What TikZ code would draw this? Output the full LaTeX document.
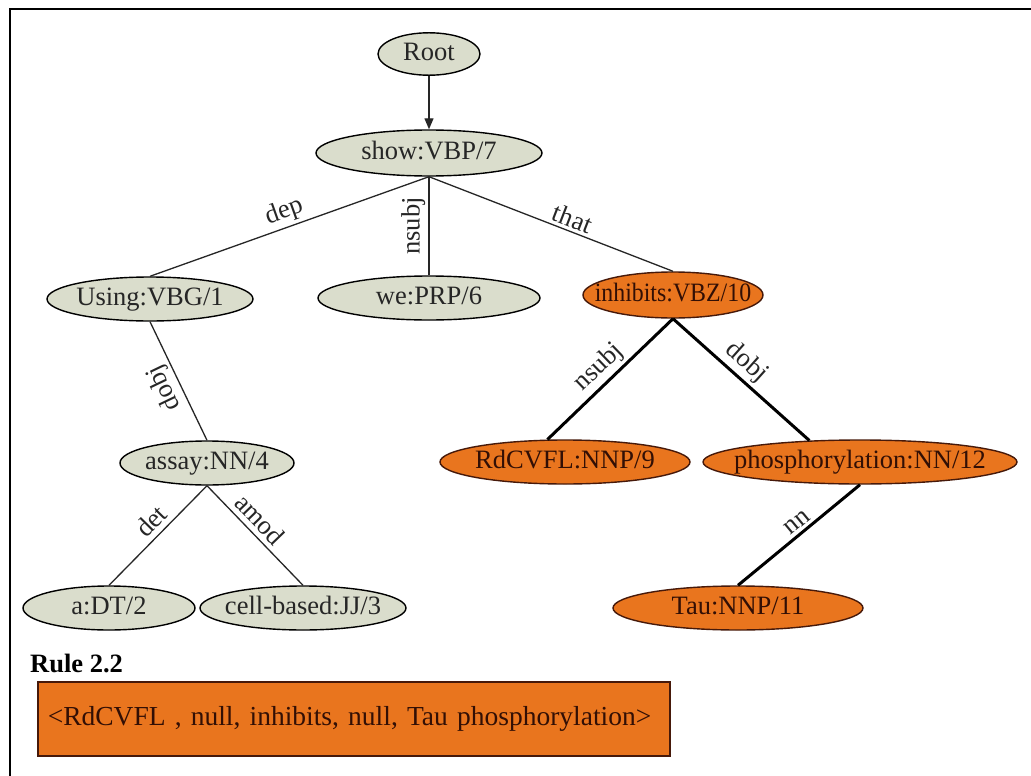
\documentclass[tikz,border=0pt]{standalone}
\usepackage{fontspec}
\setmainfont{Liberation Serif}
\usetikzlibrary{shapes.geometric,arrows.meta}

\definecolor{leaf}{RGB}{218,221,204}
\definecolor{hot}{RGB}{233,117,30}
\definecolor{hotline}{RGB}{70,25,10}
\definecolor{hottext}{RGB}{50,15,5}

% word text that does not widen its ellipse
\newcommand{\nlab}[1]{\makebox[0pt][c]{\strut#1}}

\tikzset{
  word/.style={ellipse, line width=1.4pt, inner sep=0pt, minimum height=44pt,
    font=\fontsize{26.5}{30}\selectfont},
  plain/.style={word, draw=black, fill=leaf, text=black!85},
  focus/.style={word, draw=hotline, fill=hot, text=hottext},
  thinedge/.style={line width=1.3pt, draw=black!85},
  heavy/.style={line width=3pt, draw=black},
  rel/.style={font=\fontsize{26.5}{30}\selectfont, inner sep=3pt, sloped, above, text=black!85},
}

\begin{document}
\begin{tikzpicture}[x=1pt, y=-1pt]
\useasboundingbox[fill=white] (0,0) rectangle (1031,776);

% frame
\draw[line width=2pt] (10,776) -- (10,9) -- (1031,9);

% words
\node[plain, minimum width=102pt, minimum height=42pt] (root) at (429,54) {\nlab{Root}};
\node[plain, minimum width=226pt, minimum height=46pt] (show) at (429,153) {\nlab{show:VBP/7}};
\node[plain, minimum width=206pt] (using) at (150,299) {\nlab{Using:VBG/1}};
\node[plain, minimum width=222pt] (we) at (429,298) {\nlab{we:PRP/6}};
\node[focus, minimum width=180pt, minimum height=46pt] (inh) at (673,295)
  {\nlab{\scalebox{0.9}[1]{inhibits:VBZ/10}}};
\node[plain, minimum width=174pt] (assay) at (207,463) {\nlab{assay:NN/4}};
\node[plain, minimum width=172pt] (a) at (109,608) {\nlab{a:DT/2}};
\node[plain, minimum width=206pt] (cell) at (303,608) {\nlab{cell-based:JJ/3}};
\node[focus, minimum width=250pt] (rd) at (565,462) {\nlab{RdCVFL:NNP/9}};
\node[focus, minimum width=314pt] (ph) at (860,462) {\nlab{phosphorylation:NN/12}};
\node[focus, minimum width=250pt] (tau) at (738,608) {\nlab{Tau:NNP/11}};

% dependencies
\draw[thinedge, -{Triangle[length=11pt,width=9pt]}] (root) -- (show);
\draw[thinedge] (show.south) -- node[rel] {dep} (using.north);
\draw[thinedge] (we.north) -- node[rel] {nsubj} (show.south);
\draw[thinedge] (show.south) -- node[rel, pos=0.57] {that} (inh.north);
\draw[thinedge] (assay.north) -- node[rel, allow upside down] {dobj} (using.south);
\draw[thinedge] (assay.south) -- node[rel, pos=0.46, inner sep=5pt] {det} (a.north);
\draw[thinedge] (assay.south) -- node[rel, pos=0.44, inner sep=5pt] {amod} (cell.north);
\draw[heavy] (inh.south) -- node[rel, pos=0.5] {nsubj} (rd.128);
\draw[heavy] (inh.south) -- node[rel, pos=0.46] {dobj} (ph.157);
\draw[heavy] (ph.south) -- node[rel, pos=0.46] {nn} (tau.north);

% extracted rule
\node[anchor=base west, inner sep=0pt, font=\fontsize{26.5}{30}\selectfont\bfseries] (rule) at (30,672) {Rule 2.2};
\node[draw=hotline, fill=hot, line width=1.5pt, anchor=north west,
      minimum width=632pt, minimum height=74pt, text width=612pt, inner xsep=10pt,
      align=left, text=hottext, font=\fontsize{27.5}{30}\selectfont] (tuple) at (37,681)
      {<RdCVFL , null, inhibits, null, Tau phosphorylation>};
\end{tikzpicture}
\end{document}
